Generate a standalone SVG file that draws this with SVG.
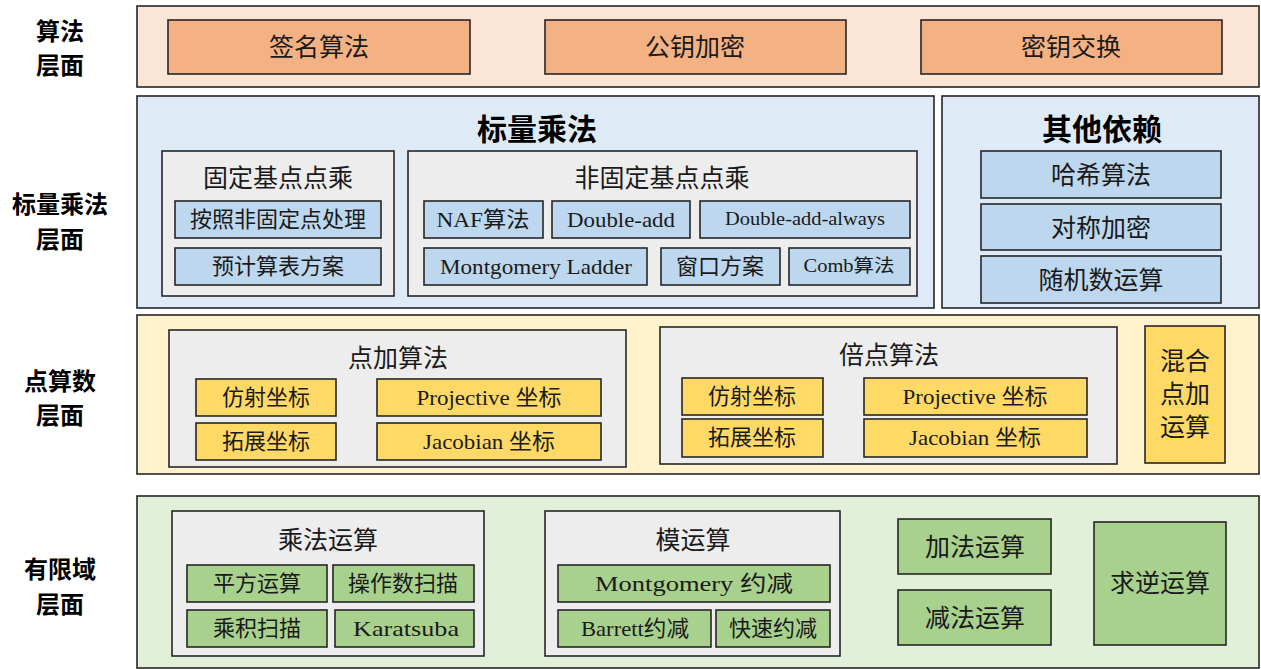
<svg xmlns="http://www.w3.org/2000/svg" width="1261" height="669" viewBox="0 0 1261 669">
<style>
rect{stroke:#262626;stroke-width:1.6}
rect.bg{stroke:none;fill:#fff}
text{font-family:"Liberation Serif","Noto Sans CJK SC",serif;fill:#1a1a1a;text-anchor:middle;dominant-baseline:central}
.lab{font-family:"Noto Sans CJK SC",sans-serif;font-weight:bold;font-size:24px;fill:#000}
.ttl{font-family:"Noto Sans CJK SC",sans-serif;font-weight:bold;font-size:30px;fill:#000}
.l1{fill:#FBE5D6}.o{fill:#F4B183}
.l2{fill:#DEEBF7}.b{fill:#BDD7EE}
.l3{fill:#FFF2CC}.y{fill:#FFD966}
.l4{fill:#E2F0D9}.g{fill:#A9D18E}
.gr{fill:#EDEDED}
.t25{font-size:25px}.t22{font-size:22px}.t18{font-size:18px}
</style>
<rect class="bg" width="1261" height="669"/>
<g id="labels">
<text class="lab" x="60" y="29">算法</text><text class="lab" x="60" y="63">层面</text>
<text class="lab" x="60" y="202">标量乘法</text><text class="lab" x="60" y="237">层面</text>
<text class="lab" x="60" y="379">点算数</text><text class="lab" x="60" y="413">层面</text>
<text class="lab" x="60" y="567">有限域</text><text class="lab" x="60" y="602">层面</text>
</g>
<g id="layer-algorithm">
<rect class="l1" x="137" y="6" width="1122" height="81"/>
<g id="sign"><rect class="o" x="168" y="20" width="302" height="54"/><text class="t25" x="319" y="47">签名算法</text></g>
<g id="pubkey"><rect class="o" x="545" y="20" width="301" height="54"/><text class="t25" x="695" y="47">公钥加密</text></g>
<g id="keyex"><rect class="o" x="921" y="20" width="301" height="54"/><text class="t25" x="1071" y="47">密钥交换</text></g>
</g>
<g id="layer-scalar">
<rect class="l2" x="137" y="96" width="797" height="212"/>
<text class="ttl" x="537" y="127">标量乘法</text>
<g id="fixed"><rect class="gr" x="162" y="151" width="232" height="145"/><text class="t25" x="278" y="178">固定基点点乘</text>
<rect class="b" x="175" y="201" width="206" height="37"/><text class="t22" x="278" y="219">按照非固定点处理</text>
<rect class="b" x="175" y="248" width="206" height="37"/><text class="t22" x="278" y="266">预计算表方案</text></g>
<g id="nonfixed"><rect class="gr" x="408" y="151" width="509" height="145"/><text class="t25" x="662" y="178">非固定基点点乘</text>
<rect class="b" x="424" y="201" width="119" height="37"/><text class="t22" x="483" y="219" textLength="93" lengthAdjust="spacingAndGlyphs">NAF算法</text>
<rect class="b" x="552" y="201" width="138" height="37"/><text class="t22" x="621" y="219" textLength="108" lengthAdjust="spacingAndGlyphs">Double-add</text>
<rect class="b" x="700" y="201" width="210" height="37"/><text class="t18" x="805" y="219" textLength="160" lengthAdjust="spacingAndGlyphs">Double-add-always</text>
<rect class="b" x="424" y="248" width="223" height="37"/><text class="t22" x="536" y="266" textLength="192" lengthAdjust="spacingAndGlyphs">Montgomery Ladder</text>
<rect class="b" x="661" y="248" width="119" height="37"/><text class="t22" x="720" y="266">窗口方案</text>
<rect class="b" x="789" y="248" width="121" height="37"/><text class="t18" x="849" y="266" textLength="91" lengthAdjust="spacingAndGlyphs">Comb算法</text></g>
</g>
<g id="layer-other">
<rect class="l2" x="942" y="96" width="317" height="212"/>
<text class="ttl" x="1102" y="127">其他依赖</text>
<rect class="b" x="981" y="151" width="240" height="47"/><text class="t25" x="1101" y="175">哈希算法</text>
<rect class="b" x="981" y="204" width="240" height="46"/><text class="t25" x="1101" y="228">对称加密</text>
<rect class="b" x="981" y="256" width="240" height="47"/><text class="t25" x="1101" y="280">随机数运算</text>
</g>
<g id="layer-point">
<rect class="l3" x="137" y="315" width="1122" height="159"/>
<g id="ptadd"><rect class="gr" x="169" y="330" width="457" height="137"/><text class="t25" x="398" y="358">点加算法</text>
<rect class="y" x="196" y="379" width="140" height="37"/><text class="t22" x="266" y="397">仿射坐标</text>
<rect class="y" x="196" y="423" width="140" height="37"/><text class="t22" x="266" y="441">拓展坐标</text>
<rect class="y" x="377" y="379" width="224" height="37"/><text class="t22" x="489" y="397" textLength="145" lengthAdjust="spacingAndGlyphs">Projective 坐标</text>
<rect class="y" x="377" y="423" width="224" height="37"/><text class="t22" x="489" y="441" textLength="132" lengthAdjust="spacingAndGlyphs">Jacobian 坐标</text></g>
<g id="ptdbl"><rect class="gr" x="660" y="327" width="457" height="137"/><text class="t25" x="889" y="355">倍点算法</text>
<rect class="y" x="682" y="378" width="141" height="37"/><text class="t22" x="752" y="396">仿射坐标</text>
<rect class="y" x="682" y="419" width="141" height="38"/><text class="t22" x="752" y="437">拓展坐标</text>
<rect class="y" x="864" y="378" width="223" height="37"/><text class="t22" x="975" y="396" textLength="145" lengthAdjust="spacingAndGlyphs">Projective 坐标</text>
<rect class="y" x="864" y="419" width="223" height="38"/><text class="t22" x="975" y="437" textLength="132" lengthAdjust="spacingAndGlyphs">Jacobian 坐标</text></g>
<g id="mixed"><rect class="y" x="1145" y="326" width="80" height="137"/>
<text class="t25" x="1185" y="361">混合</text><text class="t25" x="1185" y="394">点加</text><text class="t25" x="1185" y="427">运算</text></g>
</g>
<g id="layer-field">
<rect class="l4" x="137" y="496" width="1122" height="172"/>
<g id="mul"><rect class="gr" x="172" y="511" width="312" height="145"/><text class="t25" x="328" y="540">乘法运算</text>
<rect class="g" x="187" y="565" width="140" height="37"/><text class="t22" x="257" y="583">平方运算</text>
<rect class="g" x="333" y="565" width="141" height="37"/><text class="t22" x="403" y="583">操作数扫描</text>
<rect class="g" x="187" y="610" width="140" height="37"/><text class="t22" x="257" y="628">乘积扫描</text>
<rect class="g" x="335" y="610" width="139" height="37"/><text class="t22" x="406" y="628" textLength="106" lengthAdjust="spacingAndGlyphs">Karatsuba</text></g>
<g id="mod"><rect class="gr" x="545" y="511" width="295" height="145"/><text class="t25" x="693" y="540">模运算</text>
<rect class="g" x="558" y="565" width="272" height="37"/><text class="t22" x="694" y="583" textLength="198" lengthAdjust="spacingAndGlyphs">Montgomery 约减</text>
<rect class="g" x="558" y="610" width="153" height="37"/><text class="t22" x="635" y="628" textLength="108" lengthAdjust="spacingAndGlyphs">Barrett约减</text>
<rect class="g" x="716" y="610" width="114" height="37"/><text class="t22" x="773" y="628">快速约减</text></g>
<g id="add"><rect class="g" x="898" y="519" width="153" height="55"/><text class="t25" x="975" y="547">加法运算</text></g>
<g id="sub"><rect class="g" x="898" y="590" width="153" height="55"/><text class="t25" x="975" y="618">减法运算</text></g>
<g id="inv"><rect class="g" x="1094" y="522" width="132" height="123"/><text class="t25" x="1160" y="583">求逆运算</text></g>
</g>
<g id="connectors"/>
</svg>
